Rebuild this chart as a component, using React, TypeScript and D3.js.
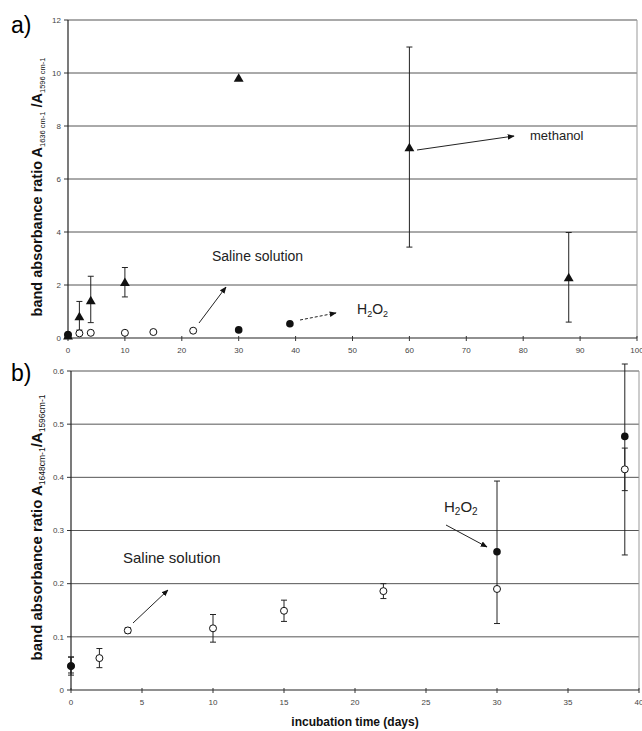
import React from 'react';
import * as d3 from 'd3';

// panel a) data
const methX = [0, 2, 4, 10, 30, 60, 88];
const methY = [0.05, 0.78, 1.38, 2.07, 9.78, 7.15, 2.25];
const methLo = [0.05, 0.3, 0.58, 1.55, 9.78, 3.43, 0.6];
const methHi = [0.05, 1.38, 2.33, 2.66, 9.78, 10.98, 3.98];
const h2oAX = [0, 30, 39];
const h2oAY = [0.05, 0.23, 0.46];
const salAX = [0, 2, 4, 10, 15, 22];
const salAY = [0.05, 0.1, 0.12, 0.12, 0.15, 0.2];
const ticksAX = [0, 10, 20, 30, 40, 50, 60, 70, 80, 90, 100];
const ticksAY = [0, 2, 4, 6, 8, 10, 12];

// panel b) data
const salBX = [0, 2, 4, 10, 15, 22, 30, 39];
const salBY = [0.045, 0.06, 0.112, 0.116, 0.149, 0.186, 0.19, 0.415];
const salBErr = [0.017, 0.018, 0.005, 0.026, 0.02, 0.014, 0.0, 0.04];
const h2oBX = [0, 30, 39];
const h2oBY = [0.045, 0.26, 0.477];
const h2oBLo = [0.032, 0.125, 0.254];
const h2oBHi = [0.062, 0.393, 0.7];
const ticksBX = [0, 5, 10, 15, 20, 25, 30, 35, 40];
const ticksBY = [0, 0.1, 0.2, 0.3, 0.4, 0.5, 0.6];

const xa = d3.scaleLinear().domain([0, 100]).range([68, 637]);
const ya = d3.scaleLinear().domain([0, 12]).range([338, 20]);
const xb = d3.scaleLinear().domain([0, 40]).range([71, 639]);
const yb = d3.scaleLinear().domain([0, 0.6]).range([690, 371]);

const tri = d3.symbol().type(d3.symbolTriangle).size(42)();
const font = 'Liberation Sans, Arial, sans-serif';

const ErrBar = ({ x, y1, y2 }: { x: number; y1: number; y2: number }) => (
  <g stroke="#222" strokeWidth={1}>
    <line x1={x} x2={x} y1={y1} y2={y2} />
    <line x1={x - 3} x2={x + 3} y1={y1} y2={y1} />
    <line x1={x - 3} x2={x + 3} y1={y2} y2={y2} />
  </g>
);

const Frame = ({ x, y, ticksX, ticksY, fmt }: any) => {
  const [x0, x1] = x.range();
  const [y0, y1] = y.range();
  return (
    <g fontFamily={font}>
      {ticksY.map((t: number) => (
        <g key={'y' + t}>
          {t !== 0 && <line x1={x0} x2={x1} y1={y(t)} y2={y(t)} stroke="#555" strokeWidth={1} />}
          <line x1={x0 - 4} x2={x0} y1={y(t)} y2={y(t)} stroke="#333" />
          <text x={x0 - 7} y={y(t)} dy="0.35em" textAnchor="end" fontSize={8} fill="#444">{fmt(t)}</text>
        </g>
      ))}
      <line x1={x1} x2={x1} y1={y1} y2={y0} stroke="#999" />
      <line x1={x0} x2={x0} y1={y1} y2={y0} stroke="#222" strokeWidth={1.2} />
      <line x1={x0} x2={x1} y1={y0} y2={y0} stroke="#222" strokeWidth={1.2} />
      {ticksX.map((t: number) => (
        <g key={'x' + t}>
          <line x1={x(t)} x2={x(t)} y1={y0 - 2} y2={y0 + 3} stroke="#333" />
          <text x={x(t)} y={y0 + 15} textAnchor="middle" fontSize={8} fill="#444">{t}</text>
        </g>
      ))}
    </g>
  );
};

const Arrow = ({ x1, y1, x2, y2, dash, id }: any) => (
  <line x1={x1} y1={y1} x2={x2} y2={y2} stroke="#222" strokeWidth={1}
    strokeDasharray={dash ? '3,2' : undefined} markerEnd={`url(#${id})`} />
);

export default function App() {
  return (
    <div style={{ position: 'absolute', left: 0, top: 0 }}>
      <svg width={642} height={731} style={{ display: 'block', background: '#fff' }}>
        <defs>
          <marker id="ah" viewBox="0 0 10 10" refX={9} refY={5} markerWidth={7} markerHeight={7} orient="auto">
            <path d="M0,1 L10,5 L0,9 Z" fill="#111" />
          </marker>
        </defs>

        {/* panel a */}
        <text x={11} y={33} fontSize={23} fontFamily={font}>a)</text>
        <Frame x={xa} y={ya} ticksX={ticksAX} ticksY={ticksAY} fmt={(t: number) => String(t)} />
        <text transform={`translate(42,${ya(6) + 8}) rotate(-90)`} textAnchor="middle" fontFamily={font} fontSize={14.5} fontWeight="bold" fill="#111">
          band absorbance ratio A<tspan fontSize={7.5} fontWeight="normal" dy={3}>1636 cm-1</tspan>
          <tspan dy={-3}> /A</tspan><tspan fontSize={7.5} fontWeight="normal" dy={3}>1596 cm-1</tspan>
        </text>
        {methX.map((d, i) => methHi[i] !== methLo[i] && (
          <ErrBar key={'me' + i} x={xa(d)} y1={ya(methHi[i])} y2={ya(methLo[i])} />
        ))}
        {salAX.map((d, i) => (
          <circle key={'sa' + i} cx={xa(d)} cy={ya(salAY[i]) - 2} r={3.5} fill="#fff" stroke="#111" strokeWidth={1} />
        ))}
        {h2oAX.map((d, i) => (
          <circle key={'ha' + i} cx={xa(d)} cy={ya(h2oAY[i]) - 2} r={3.8} fill="#111" />
        ))}
        {methX.map((d, i) => (
          <path key={'m' + i} d={tri} transform={`translate(${xa(d)},${ya(methY[i])})`} fill="#111" />
        ))}
        <Arrow id="ah" x1={417} y1={150} x2={514} y2={136} />
        <text x={530} y={140} fontSize={13} fontFamily={font} fill="#222">methanol</text>
        <text x={212} y={261} fontSize={14} fontFamily={font} fill="#222">Saline solution</text>
        <Arrow id="ah" x1={199} y1={323} x2={226} y2={287} />
        <Arrow id="ah" x1={300} y1={320} x2={336} y2={313} dash />
        <text x={357} y={314} fontSize={14} fontFamily={font} fill="#222">
          H<tspan fontSize={9} dy={3}>2</tspan><tspan dy={-3}>O</tspan><tspan fontSize={9} dy={3}>2</tspan>
        </text>

        {/* panel b */}
        <text x={11} y={381} fontSize={23} fontFamily={font}>b)</text>
        <Frame x={xb} y={yb} ticksX={ticksBX} ticksY={ticksBY} fmt={(t: number) => String(+t.toFixed(1))} />
        <text transform={`translate(42,${yb(0.3) - 3}) rotate(-90)`} textAnchor="middle" fontFamily={font} fontSize={15} fontWeight="bold" fill="#111">
          band absorbance ratio A<tspan fontSize={8.5} fontWeight="normal" dy={3}>1648cm-1</tspan>
          <tspan dy={-3}>/A</tspan><tspan fontSize={8.5} fontWeight="normal" dy={3}>1596cm-1</tspan>
        </text>
        {h2oBX.map((d, i) => (
          <ErrBar key={'hbe' + i} x={xb(d)} y1={Math.max(yb(h2oBHi[i]), 364)} y2={yb(h2oBLo[i])} />
        ))}
        {salBX.map((d, i) => salBErr[i] > 0 && (
          <ErrBar key={'sbe' + i} x={xb(d)} y1={yb(salBY[i] + salBErr[i])} y2={yb(salBY[i] - salBErr[i])} />
        ))}
        {salBX.map((d, i) => (
          <circle key={'sb' + i} cx={xb(d)} cy={yb(salBY[i])} r={3.5} fill="#fff" stroke="#111" strokeWidth={1} />
        ))}
        {h2oBX.map((d, i) => (
          <circle key={'hb' + i} cx={xb(d)} cy={yb(h2oBY[i])} r={3.8} fill="#111" />
        ))}
        <text x={123} y={563} fontSize={15} fontFamily={font} fill="#222">Saline solution</text>
        <Arrow id="ah" x1={133} y1={623} x2={168} y2={590} />
        <text x={444} y={512} fontSize={15} fontFamily={font} fill="#222">
          H<tspan fontSize={10} dy={3}>2</tspan><tspan dy={-3}>O</tspan><tspan fontSize={10} dy={3}>2</tspan>
        </text>
        <Arrow id="ah" x1={446} y1={525} x2={487} y2={547} />
        <text x={355} y={726} textAnchor="middle" fontSize={12} fontWeight="bold" fontFamily={font} fill="#111">incubation time (days)</text>
      </svg>
    </div>
  );
}
